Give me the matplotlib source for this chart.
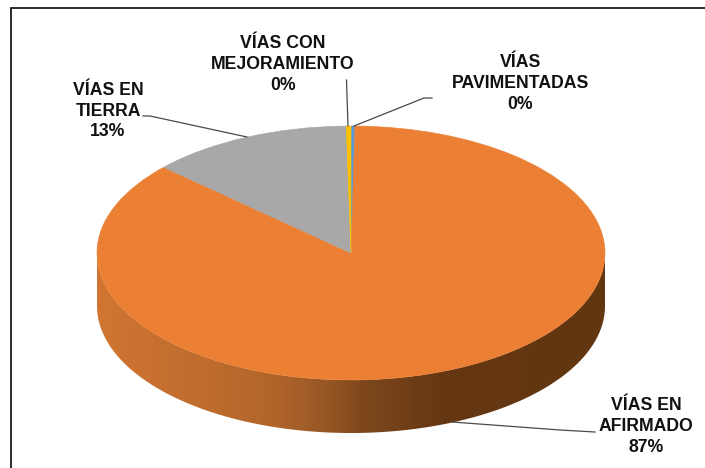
import numpy as np
import matplotlib
matplotlib.use("Agg")
import matplotlib.pyplot as plt
from matplotlib.colors import LinearSegmentedColormap
from matplotlib.patches import Polygon
from matplotlib.transforms import Affine2D

plt.rcParams['font.family'] = ['Liberation Sans', 'DejaVu Sans']

categories = ['VÍAS\nPAVIMENTADAS\n0%', 'VÍAS EN\nAFIRMADO\n87%', 'VÍAS EN\nTIERRA\n13%', 'VÍAS CON\nMEJORAMIENTO\n0%']
values = [0.25, 86.55, 12.9, 0.3]
colors = ['#5B9BD5', '#EB8035', '#A8A8A8', '#FFC000']
label_xy = [(520.5, 83.5), (646, 426.5), (108, 111), (283, 64.5)]
leader_lines = [[(432, 98), (424, 98), (354, 126)],
                [(595, 432), (560, 430), (452, 422)],
                [(143, 116), (150, 116), (247, 137)],
                [(346.5, 80), (348, 126)]]

W, H = 705, 468
cx, cy, rx, ry, depth = 351, 253, 254, 127, 53
side_colors = ['#D07632', '#C06C2E', '#B1652B', '#985726', '#7F481C', '#653713', '#633612']
side_stops = [0, 0.2, 0.35, 0.45, 0.52, 0.68, 1]

fig = plt.figure(figsize=(W / 100, H / 100), dpi=100)
ax = fig.add_axes([0, 0, 1, 1])
ax.set_xlim(0, W)
ax.set_ylim(H, 0)
ax.axis('off')

# frame: left and top edges only
ax.plot([10.5, 10.5, W], [H, 7.5, 7.5], color='#1a1a1a', lw=1.3, zorder=1,
        solid_capstyle='butt', solid_joinstyle='miter')

# side wall with gradient, clipped to the lower half of the ellipse plus depth
t = np.linspace(0, np.pi, 300)
lower = np.c_[cx + rx * np.cos(t), cy + depth + ry * np.sin(t)]
upper = np.c_[cx - rx * np.cos(t), cy + ry * np.sin(t)]
side = Polygon(np.r_[lower, upper], closed=True, transform=ax.transData, fc='none', ec='none')
ax.add_patch(side)
cmap = LinearSegmentedColormap.from_list('side', list(zip(side_stops, side_colors)))
grad = np.linspace(0, 1, 512).reshape(1, -1)
im = ax.imshow(grad, cmap=cmap, extent=[cx - rx, cx + rx, cy + ry + depth, cy], aspect='auto', zorder=2)
im.set_clip_path(side)

# top face: pie computed from the values, squashed to an ellipse
wedges, _ = ax.pie(values, colors=colors, startangle=90, counterclock=False, radius=1,
                   wedgeprops=dict(linewidth=0.4))
ax.set_aspect('auto')
ax.set_xlim(0, W)
ax.set_ylim(H, 0)
squash = Affine2D().scale(rx, -ry).translate(cx, cy) + ax.transData
for w, c in zip(wedges, colors):
    w.set_transform(squash)
    w.set_edgecolor(c)
    w.set_zorder(3)

# leader lines
for line in leader_lines:
    xs, ys = zip(*line)
    ax.plot(xs, ys, color='#4a4a4a', lw=0.9, zorder=4)

# labels
for txt, (x, y) in zip(categories, label_xy):
    ax.text(x, y, txt, ha='center', va='center', fontsize=12.7, fontweight='bold',
            color='#111111', linespacing=1.29, zorder=5)

fig.savefig('out.png', dpi=100)
